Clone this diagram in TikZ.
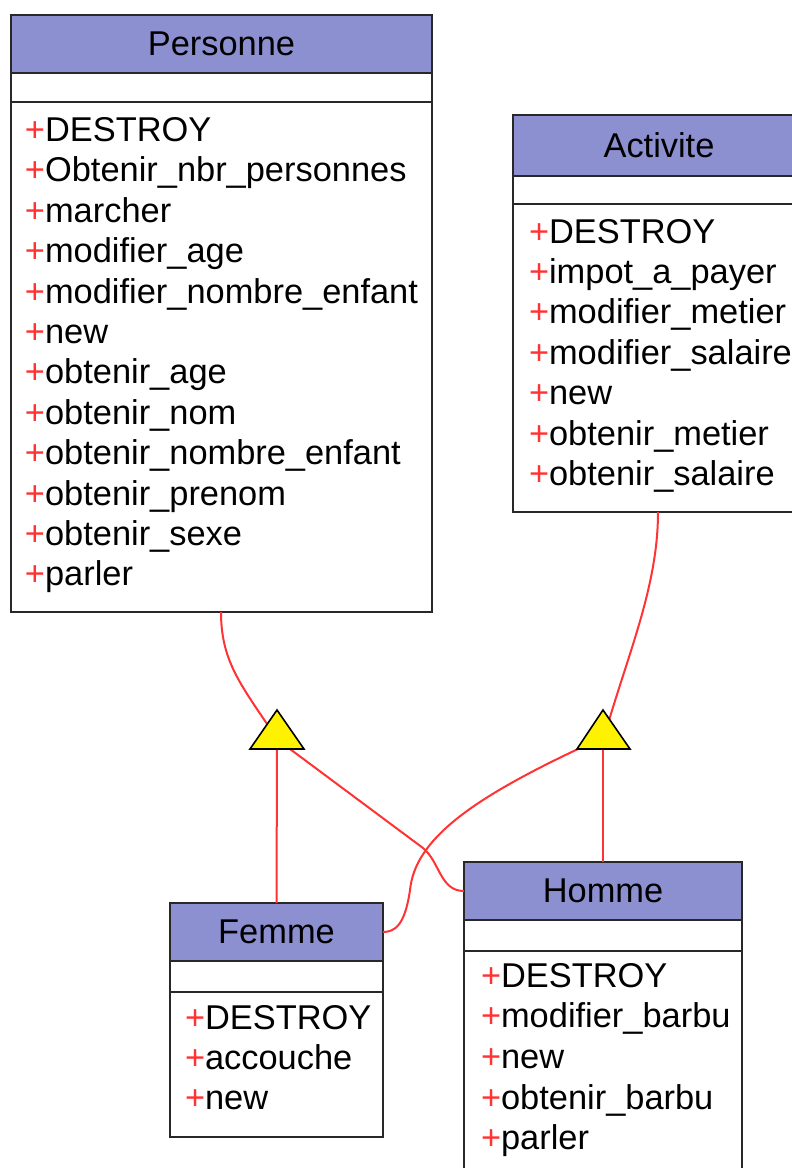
\documentclass[tikz,border=0pt]{standalone}
\usepackage{fontspec}
\setmainfont{Liberation Sans}
\definecolor{hdr}{RGB}{140,143,208}
\definecolor{lnk}{RGB}{255,51,51}
\definecolor{bord}{RGB}{40,40,40}
\newcommand\methfont{\fontsize{17.2}{20}\selectfont}
\newcommand\plusmark{\textcolor{lnk}{+}}
\tikzset{
  box/.style={draw=bord, line width=1pt, inner sep=0pt, outer sep=0pt, anchor=north west},
  hdrbox/.style={box, fill=hdr},
  bodybox/.style={box, fill=white},
  meth/.style={anchor=base west, inner sep=0pt, outer sep=0pt, font=\methfont},
  ctitle/.style={inner sep=0pt, font=\methfont},
  rel/.style={draw=lnk, line width=1pt},
  gentri/.style={draw=black, fill=yellow, line width=0.8pt, line join=miter},
}
\begin{document}
\begin{tikzpicture}[x=0.5pt,y=-0.5pt]
\useasboundingbox (0,0) rectangle (792,1168);
\clip (0,0) rectangle (792,1168);
\fill[white] (0,0) rectangle (792,1168);

% ---------- Personne ----------
\node[hdrbox, minimum width=210.5pt, minimum height=29pt] (persH) at (11,15) {};
\node[bodybox, minimum width=210.5pt, minimum height=14.5pt] (persA) at (11,73) {};
\node[bodybox, minimum width=210.5pt, minimum height=255pt] (persM) at (11,102) {};
\node[ctitle] (persT) at (persH.center) {Personne};
\foreach \t [count=\i from 0] in {DESTROY,Obtenir\_nbr\_personnes,marcher,modifier\_age,modifier\_nombre\_enfant,new,obtenir\_age,obtenir\_nom,obtenir\_nombre\_enfant,obtenir\_prenom,obtenir\_sexe,parler}
  \node[meth] (pm\i) at (25,{141.5+40.4*\i}) {\plusmark\t};

% ---------- Activite ----------
\node[hdrbox, minimum width=146pt, minimum height=30.5pt] (actH) at (513,115) {};
\node[bodybox, minimum width=146pt, minimum height=14pt] (actA) at (513,176) {};
\node[bodybox, minimum width=146pt, minimum height=154pt] (actM) at (513,204) {};
\node[ctitle] (actT) at (actH.center) {Activite};
\foreach \t [count=\i from 0] in {DESTROY,impot\_a\_payer,modifier\_metier,modifier\_salaire,new,obtenir\_metier,obtenir\_salaire}
  \node[meth] (am\i) at (529,{243+40.4*\i}) {\plusmark\t};

% ---------- Femme ----------
\node[hdrbox, minimum width=106.5pt, minimum height=29pt] (femH) at (170,903) {};
\node[bodybox, minimum width=106.5pt, minimum height=15.5pt] (femA) at (170,961) {};
\node[bodybox, minimum width=106.5pt, minimum height=72.5pt] (femM) at (170,992) {};
\node[ctitle] (femT) at (femH.center) {Femme};
\foreach \t [count=\i from 0] in {DESTROY,accouche,new}
  \node[meth] (fm\i) at (185,{1029+40.4*\i}) {\plusmark\t};

% ---------- Homme ----------
\node[hdrbox, minimum width=139pt, minimum height=29pt] (homH) at (464,862) {};
\node[bodybox, minimum width=139pt, minimum height=15.5pt] (homA) at (464,920) {};
\node[bodybox, minimum width=139pt, minimum height=140pt] (homM) at (464,951) {};
\node[ctitle] (homT) at (homH.center) {Homme};
\foreach \t [count=\i from 0] in {DESTROY,modifier\_barbu,new,obtenir\_barbu,parler}
  \node[meth] (hm\i) at (481,{987+40.7*\i}) {\plusmark\t};

% ---------- generalization points ----------
\coordinate (t1) at (277,710);
\coordinate (t1c) at (281,745);
\coordinate (t1b) at (277,749);
\coordinate (t1r) at (290,749);
\coordinate (t2) at (603,710);
\coordinate (t2c) at (602,745);
\coordinate (t2b) at (603,749);
\coordinate (t2l) at (578,749);

% ---------- connectors ----------
\draw[rel] ([xshift=105pt]persM.south west) .. controls (221,665) and (244,688) .. (t1c);
\draw[rel] ([xshift=72.5pt]actM.south west) .. controls (658,590) and (625,660) .. (t2c);
\draw[rel] (t1b) -- (femH.north);
\draw[rel] (t2b) -- (homH.north);
\draw[rel] (t1r) -- (423,848) .. controls (440,862) and (440,891) .. (homH.west);
\draw[rel] (t2l) .. controls (470,800) and (415,840) .. (410,890) .. controls (405,925) and (395,932) .. (femH.east);

% ---------- triangles ----------
\draw[gentri] (250,749) -- (t1) -- (304,749) -- cycle;
\draw[gentri] (577,749) -- (t2) -- (630,749) -- cycle;
\end{tikzpicture}
\end{document}
